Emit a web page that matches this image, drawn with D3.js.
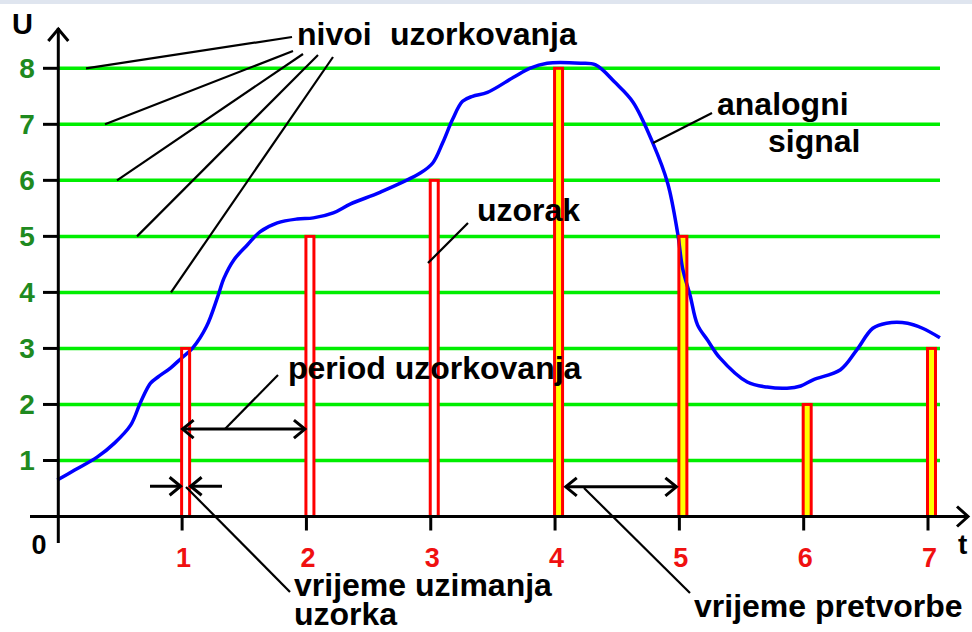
<!DOCTYPE html>
<html><head><meta charset="utf-8">
<script src="https://cdn.jsdelivr.net/npm/d3@7"></script>
<style>html,body{margin:0;padding:0;background:#fff;overflow:hidden}svg{display:block}</style>
</head><body>
<svg id="c" width="972" height="632"></svg>
<script>
// ---- data ----
const levels = [1, 2, 3, 4, 5, 6, 7, 8];
const sampleTimes = [1, 2, 3, 4, 5, 6, 7];
const sampleValues = [3, 5, 6, 8, 5, 2, 3];
const signalT = [0, 0.14, 0.32, 0.46, 0.59, 0.67, 0.75, 0.81, 0.91, 1.0, 1.09, 1.2, 1.29, 1.34, 1.42, 1.53, 1.63, 1.77, 1.93, 2.06, 2.22, 2.36, 2.6, 2.92, 3.02, 3.1, 3.18, 3.26, 3.34, 3.46, 3.67, 3.8, 3.94, 4.21, 4.33, 4.49, 4.63, 4.79, 4.91, 4.99, 5.03, 5.09, 5.15, 5.23, 5.33, 5.55, 5.71, 5.87, 5.98, 6.08, 6.3, 6.43, 6.56, 6.67, 6.84, 6.96, 7.1];
const signalU = [0.65, 0.83, 1.06, 1.31, 1.63, 2.04, 2.38, 2.49, 2.65, 2.83, 3.01, 3.39, 3.92, 4.25, 4.58, 4.85, 5.08, 5.24, 5.31, 5.33, 5.42, 5.58, 5.79, 6.13, 6.31, 6.67, 7.09, 7.41, 7.5, 7.57, 7.84, 8.0, 8.09, 8.09, 8.06, 7.74, 7.4, 6.67, 5.95, 5.06, 4.43, 3.95, 3.42, 3.15, 2.83, 2.4, 2.31, 2.29, 2.33, 2.44, 2.62, 2.97, 3.36, 3.45, 3.45, 3.36, 3.19];
const xTickLabels = ["1", "2", "3", "4", "5", "6", "7"];
const yTickLabels = ["1", "2", "3", "4", "5", "6", "7", "8"];

// ---- scales ----
const svg = d3.select("#c");
const x = d3.scaleLinear().domain([0, 7]).range([57.3, 927.5]);
const y = d3.scaleLinear().domain([0, 8]).range([516.5, 68.3]);
const FONT = "'Liberation Sans', Arial, sans-serif";

// faint top border
svg.append("rect").attr("x", 0).attr("y", 0).attr("width", 972).attr("height", 4).attr("fill", "#dfe5ef");

// green level lines
svg.append("g").selectAll("line").data(levels).join("line")
  .attr("x1", x(0)).attr("x2", 940)
  .attr("y1", d => y(d)).attr("y2", d => y(d))
  .attr("stroke", "#00ee00").attr("stroke-width", 3.5);

// bar fills
const bars = sampleTimes.map((t, i) => ({t, v: sampleValues[i], i}));
svg.append("g").selectAll("rect").data(bars).join("rect")
  .attr("x", d => x(d.t)).attr("width", 8)
  .attr("y", d => y(d.v)).attr("height", d => y(0) - y(d.v))
  .attr("fill", d => d.i >= 3 ? "#ffff00" : "#ffffff");

// analog signal
const line = d3.line().x(d => x(d[0])).y(d => y(d[1])).curve(d3.curveCatmullRom.alpha(0.5));
svg.append("path").datum(signalT.map((t, i) => [t, signalU[i]]))
  .attr("d", line).attr("fill", "none").attr("stroke", "#0000ff").attr("stroke-width", 3.5);

// bar outlines
svg.append("g").selectAll("rect").data(bars).join("rect")
  .attr("x", d => x(d.t)).attr("width", 8)
  .attr("y", d => y(d.v)).attr("height", d => y(0) - y(d.v))
  .attr("fill", "none").attr("stroke", "#ff0000").attr("stroke-width", 3);

// axes
const ax = svg.append("g").attr("stroke", "#000").attr("stroke-width", 3).attr("fill", "none");
ax.append("line").attr("x1", 30).attr("x2", 968).attr("y1", y(0)).attr("y2", y(0));
ax.append("line").attr("x1", x(0) + 1).attr("x2", x(0) + 1).attr("y1", 28).attr("y2", 543);
ax.append("path").attr("d", `M${x(0) - 9},41 L${x(0) + 1},29 L${x(0) + 11},41`);
ax.append("path").attr("d", `M957,${y(0) - 10} L968,${y(0)} L957,${y(0) + 10}`);
ax.selectAll(".yt").data(levels).join("line").attr("class", "yt")
  .attr("x1", 43).attr("x2", x(0)).attr("y1", d => y(d)).attr("y2", d => y(d));
ax.selectAll(".xt").data(sampleTimes).join("line").attr("class", "xt")
  .attr("x1", d => x(d) + 0.5).attr("x2", d => x(d) + 0.5).attr("y1", y(0)).attr("y2", y(0) + 14);

// tick labels
svg.append("g").selectAll("text").data(levels).join("text")
  .attr("x", 27).attr("y", d => y(d) + 10).attr("text-anchor", "middle")
  .attr("font-family", FONT).attr("font-weight", "bold").attr("font-size", 28)
  .attr("fill", "#1f8a1f").text((d, i) => yTickLabels[i]);
svg.append("g").selectAll("text").data(sampleTimes).join("text")
  .attr("x", d => x(d) + 2).attr("y", 567).attr("text-anchor", "middle")
  .attr("font-family", FONT).attr("font-weight", "bold").attr("font-size", 27)
  .attr("fill", "#f01010").text((d, i) => xTickLabels[i]);

function txt(s, tx, ty, size, anchor) {
  svg.append("text").attr("x", tx).attr("y", ty).attr("text-anchor", anchor || "start")
    .attr("font-family", FONT).attr("font-weight", "bold").attr("font-size", size)
    .attr("fill", "#000").text(s);
}
txt("U", 12, 34, 29);
txt("0", 39, 554, 27, "middle");
txt("t", 958, 554, 28);
txt("nivoi", 297, 45, 32);
txt("uzorkovanja", 390, 45, 32);
txt("analogni", 717, 115, 32);
txt("signal", 768, 152, 32);
txt("uzorak", 477, 221, 32);
txt("period uzorkovanja", 288, 379, 32);
txt("vrijeme uzimanja", 294, 596, 32);
txt("uzorka", 294, 625, 32);
txt("vrijeme pretvorbe", 694, 617, 32);

// annotation leader lines
const ann = svg.append("g").attr("stroke", "#000").attr("stroke-width", 2.2).attr("fill", "none");
const leaders = [
  [86, y(8), 292, 37], [105, y(7), 293, 51], [117, y(6), 303, 54], [137, y(5), 318, 55], [171, y(4), 333, 57],
  [712, 113, 653, 143],
  [468, 223, 428, 263],
  [278, 375, 225, 429],
  [186, 487, 290, 592],
  [584, 488, 690, 593]
];
leaders.forEach(l => ann.append("line").attr("x1", l[0]).attr("y1", l[1]).attr("x2", l[2]).attr("y2", l[3]));

// double arrows
const arr = svg.append("g").attr("stroke", "#000").attr("stroke-width", 3).attr("fill", "none");
function hArrow(x1, x2, yy, both) {
  arr.append("line").attr("x1", x1).attr("x2", x2).attr("y1", yy).attr("y2", yy);
  arr.append("path").attr("d", `M${x2 - 11},${yy - 9} L${x2},${yy} L${x2 - 11},${yy + 9}`);
  if (both) arr.append("path").attr("d", `M${x1 + 11},${yy - 9} L${x1},${yy} L${x1 + 11},${yy + 9}`);
}
hArrow(x(1) + 1, x(2) - 1, y(1.56), true);
hArrow(x(4.09), x(4.98), y(0.53), true);
hArrow(150, x(1) - 1, y(0.54), false);
// left-pointing small arrow
arr.append("line").attr("x1", 222).attr("x2", x(1) + 9).attr("y1", y(0.54)).attr("y2", y(0.54));
arr.append("path").attr("d", `M${x(1) + 20},${y(0.54) - 9} L${x(1) + 9},${y(0.54)} L${x(1) + 20},${y(0.54) + 9}`);
</script>
</body></html>
